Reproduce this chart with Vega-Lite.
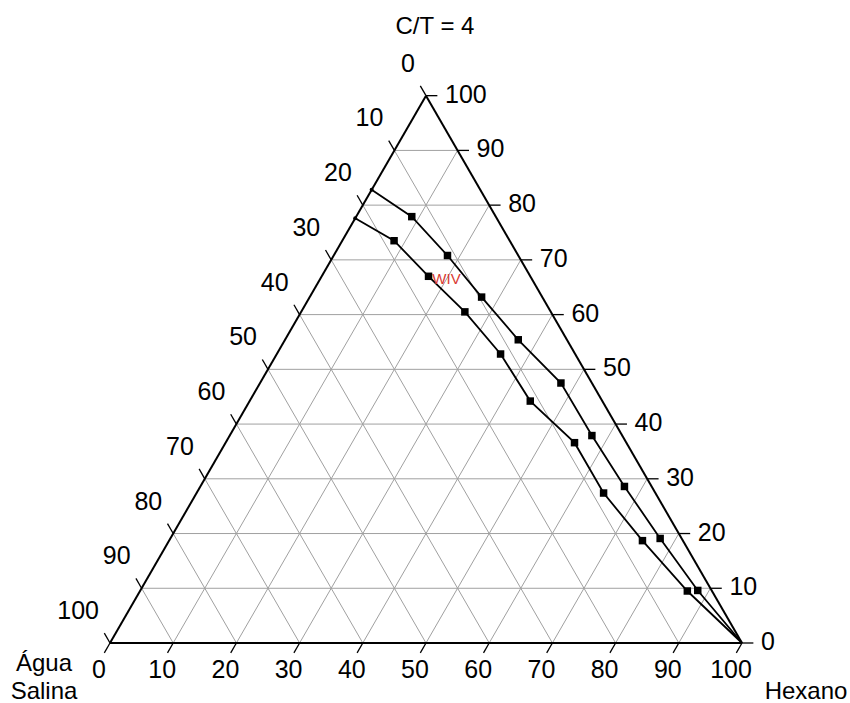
{
  "$schema": "https://vega.github.io/schema/vega-lite/v6.json",
  "width": 850,
  "height": 703,
  "autosize": {"type": "none"},
  "padding": 0,
  "background": "white",
  "config": {
    "view": {"stroke": null},
    "text": {"font": "Liberation Sans"}
  },
  "datasets": {
    "grid": [
      {"h1": 0, "t1": 10, "h2": 90, "t2": 10}, {"h1": 10, "t1": 0, "h2": 10, "t2": 90}, {"h1": 90, "t1": 0, "h2": 0, "t2": 90},
      {"h1": 0, "t1": 20, "h2": 80, "t2": 20}, {"h1": 20, "t1": 0, "h2": 20, "t2": 80}, {"h1": 80, "t1": 0, "h2": 0, "t2": 80},
      {"h1": 0, "t1": 30, "h2": 70, "t2": 30}, {"h1": 30, "t1": 0, "h2": 30, "t2": 70}, {"h1": 70, "t1": 0, "h2": 0, "t2": 70},
      {"h1": 0, "t1": 40, "h2": 60, "t2": 40}, {"h1": 40, "t1": 0, "h2": 40, "t2": 60}, {"h1": 60, "t1": 0, "h2": 0, "t2": 60},
      {"h1": 0, "t1": 50, "h2": 50, "t2": 50}, {"h1": 50, "t1": 0, "h2": 50, "t2": 50}, {"h1": 50, "t1": 0, "h2": 0, "t2": 50},
      {"h1": 0, "t1": 60, "h2": 40, "t2": 60}, {"h1": 60, "t1": 0, "h2": 60, "t2": 40}, {"h1": 40, "t1": 0, "h2": 0, "t2": 40},
      {"h1": 0, "t1": 70, "h2": 30, "t2": 70}, {"h1": 70, "t1": 0, "h2": 70, "t2": 30}, {"h1": 30, "t1": 0, "h2": 0, "t2": 30},
      {"h1": 0, "t1": 80, "h2": 20, "t2": 80}, {"h1": 80, "t1": 0, "h2": 80, "t2": 20}, {"h1": 20, "t1": 0, "h2": 0, "t2": 20},
      {"h1": 0, "t1": 90, "h2": 10, "t2": 90}, {"h1": 90, "t1": 0, "h2": 90, "t2": 10}, {"h1": 10, "t1": 0, "h2": 0, "t2": 10}
    ],
    "edges": [
      {"h1": 0, "t1": 0, "h2": 100, "t2": 0},
      {"h1": 100, "t1": 0, "h2": 0, "t2": 100},
      {"h1": 0, "t1": 100, "h2": 0, "t2": 0}
    ],
    "ticks": [
      {"h1": 0, "t1": 0, "h2": 0, "t2": -1.8}, {"h1": 10, "t1": 0, "h2": 10, "t2": -1.8}, {"h1": 20, "t1": 0, "h2": 20, "t2": -1.8},
      {"h1": 30, "t1": 0, "h2": 30, "t2": -1.8}, {"h1": 40, "t1": 0, "h2": 40, "t2": -1.8}, {"h1": 50, "t1": 0, "h2": 50, "t2": -1.8},
      {"h1": 60, "t1": 0, "h2": 60, "t2": -1.8}, {"h1": 70, "t1": 0, "h2": 70, "t2": -1.8}, {"h1": 80, "t1": 0, "h2": 80, "t2": -1.8},
      {"h1": 90, "t1": 0, "h2": 90, "t2": -1.8}, {"h1": 100, "t1": 0, "h2": 100, "t2": -1.8},
      {"h1": 100, "t1": 0, "h2": 101.8, "t2": 0}, {"h1": 90, "t1": 10, "h2": 91.8, "t2": 10}, {"h1": 80, "t1": 20, "h2": 81.8, "t2": 20},
      {"h1": 70, "t1": 30, "h2": 71.8, "t2": 30}, {"h1": 60, "t1": 40, "h2": 61.8, "t2": 40}, {"h1": 50, "t1": 50, "h2": 51.8, "t2": 50},
      {"h1": 40, "t1": 60, "h2": 41.8, "t2": 60}, {"h1": 30, "t1": 70, "h2": 31.8, "t2": 70}, {"h1": 20, "t1": 80, "h2": 21.8, "t2": 80},
      {"h1": 10, "t1": 90, "h2": 11.8, "t2": 90}, {"h1": 0, "t1": 100, "h2": 1.8, "t2": 100},
      {"h1": 0, "t1": 100, "h2": -1.8, "t2": 101.8}, {"h1": 0, "t1": 90, "h2": -1.8, "t2": 91.8}, {"h1": 0, "t1": 80, "h2": -1.8, "t2": 81.8},
      {"h1": 0, "t1": 70, "h2": -1.8, "t2": 71.8}, {"h1": 0, "t1": 60, "h2": -1.8, "t2": 61.8}, {"h1": 0, "t1": 50, "h2": -1.8, "t2": 51.8},
      {"h1": 0, "t1": 40, "h2": -1.8, "t2": 41.8}, {"h1": 0, "t1": 30, "h2": -1.8, "t2": 31.8}, {"h1": 0, "t1": 20, "h2": -1.8, "t2": 21.8},
      {"h1": 0, "t1": 10, "h2": -1.8, "t2": 11.8}, {"h1": 0, "t1": 0, "h2": -1.8, "t2": 1.8}
    ],
    "labels": [
      {"axis": "hexano", "v": 0, "h": 0, "t": 0}, {"axis": "hexano", "v": 10, "h": 10, "t": 0}, {"axis": "hexano", "v": 20, "h": 20, "t": 0},
      {"axis": "hexano", "v": 30, "h": 30, "t": 0}, {"axis": "hexano", "v": 40, "h": 40, "t": 0}, {"axis": "hexano", "v": 50, "h": 50, "t": 0},
      {"axis": "hexano", "v": 60, "h": 60, "t": 0}, {"axis": "hexano", "v": 70, "h": 70, "t": 0}, {"axis": "hexano", "v": 80, "h": 80, "t": 0},
      {"axis": "hexano", "v": 90, "h": 90, "t": 0}, {"axis": "hexano", "v": 100, "h": 100, "t": 0},
      {"axis": "ct", "v": 0, "h": 100, "t": 0}, {"axis": "ct", "v": 10, "h": 90, "t": 10}, {"axis": "ct", "v": 20, "h": 80, "t": 20},
      {"axis": "ct", "v": 30, "h": 70, "t": 30}, {"axis": "ct", "v": 40, "h": 60, "t": 40}, {"axis": "ct", "v": 50, "h": 50, "t": 50},
      {"axis": "ct", "v": 60, "h": 40, "t": 60}, {"axis": "ct", "v": 70, "h": 30, "t": 70}, {"axis": "ct", "v": 80, "h": 20, "t": 80},
      {"axis": "ct", "v": 90, "h": 10, "t": 90}, {"axis": "ct", "v": 100, "h": 0, "t": 100},
      {"axis": "salina", "v": 0, "h": 0, "t": 100}, {"axis": "salina", "v": 10, "h": 0, "t": 90}, {"axis": "salina", "v": 20, "h": 0, "t": 80},
      {"axis": "salina", "v": 30, "h": 0, "t": 70}, {"axis": "salina", "v": 40, "h": 0, "t": 60}, {"axis": "salina", "v": 50, "h": 0, "t": 50},
      {"axis": "salina", "v": 60, "h": 0, "t": 40}, {"axis": "salina", "v": 70, "h": 0, "t": 30}, {"axis": "salina", "v": 80, "h": 0, "t": 20},
      {"axis": "salina", "v": 90, "h": 0, "t": 10}, {"axis": "salina", "v": 100, "h": 0, "t": 0}
    ],
    "curves": [
      {"curva": "A", "seq": 0, "hexano": 0, "salina": 17.2, "ct": 82.8, "marker": "edge"},
      {"curva": "A", "seq": 1, "hexano": 8.8, "salina": 13.3, "ct": 77.9, "marker": "sq"},
      {"curva": "A", "seq": 2, "hexano": 18.0, "salina": 11.2, "ct": 70.8, "marker": "sq"},
      {"curva": "A", "seq": 3, "hexano": 27.2, "salina": 9.6, "ct": 63.2, "marker": "sq"},
      {"curva": "A", "seq": 4, "hexano": 36.9, "salina": 7.7, "ct": 55.4, "marker": "sq"},
      {"curva": "A", "seq": 5, "hexano": 47.6, "salina": 4.9, "ct": 47.5, "marker": "sq"},
      {"curva": "A", "seq": 6, "hexano": 57.3, "salina": 4.8, "ct": 37.9, "marker": "sq"},
      {"curva": "A", "seq": 7, "hexano": 67.1, "salina": 4.3, "ct": 28.6, "marker": "sq"},
      {"curva": "A", "seq": 8, "hexano": 77.5, "salina": 3.4, "ct": 19.1, "marker": "sq"},
      {"curva": "A", "seq": 9, "hexano": 88.2, "salina": 2.2, "ct": 9.6, "marker": "sq"},
      {"curva": "A", "seq": 10, "hexano": 100, "salina": 0, "ct": 0, "marker": "none"},
      {"curva": "B", "seq": 0, "hexano": 0, "salina": 22.4, "ct": 77.6, "marker": "edge"},
      {"curva": "B", "seq": 1, "hexano": 8.2, "salina": 18.3, "ct": 73.5, "marker": "sq"},
      {"curva": "B", "seq": 2, "hexano": 16.9, "salina": 16.1, "ct": 67.0, "marker": "sq"},
      {"curva": "B", "seq": 3, "hexano": 25.9, "salina": 13.6, "ct": 60.5, "marker": "sq"},
      {"curva": "B", "seq": 4, "hexano": 35.4, "salina": 11.8, "ct": 52.8, "marker": "sq"},
      {"curva": "B", "seq": 5, "hexano": 44.4, "salina": 11.4, "ct": 44.2, "marker": "sq"},
      {"curva": "B", "seq": 6, "hexano": 55.2, "salina": 8.2, "ct": 36.6, "marker": "sq"},
      {"curva": "B", "seq": 7, "hexano": 64.4, "salina": 8.2, "ct": 27.4, "marker": "sq"},
      {"curva": "B", "seq": 8, "hexano": 74.9, "salina": 6.4, "ct": 18.7, "marker": "sq"},
      {"curva": "B", "seq": 9, "hexano": 86.6, "salina": 3.9, "ct": 9.5, "marker": "sq"},
      {"curva": "B", "seq": 10, "hexano": 100, "salina": 0, "ct": 0, "marker": "none"}
    ],
    "names": [
      {"name": "C/T = 4", "h": 0, "t": 100, "pos": "top"},
      {"name": "Hexano", "h": 100, "t": 0, "pos": "right"},
      {"name": "Água\nSalina", "h": 0, "t": 0, "pos": "left"},
      {"name": "WIV", "h": 20.0, "t": 66.5, "pos": "region"}
    ]
  },
  "layer": [
    {
      "description": "Grey 10% grid lines for the three components",
      "data": {"name": "grid"},
      "transform": [
        {"calculate": "datum.h1 + datum.t1 / 2", "as": "x1"},
        {"calculate": "datum.t1 * 0.8660254", "as": "y1"},
        {"calculate": "datum.h2 + datum.t2 / 2", "as": "x2"},
        {"calculate": "datum.t2 * 0.8660254", "as": "y2"}
      ],
      "mark": {"type": "rule", "color": "#a0a0a0", "strokeWidth": 1},
      "encoding": {
        "x": {"field": "x1", "type": "quantitative", "scale": {"domain": [-17.405, 117.089], "nice": false, "zero": false}, "axis": null},
        "y": {"field": "y1", "type": "quantitative", "scale": {"domain": [-9.494, 101.741], "nice": false, "zero": false}, "axis": null},
        "x2": {"field": "x2"},
        "y2": {"field": "y2"}
      }
    },
    {
      "description": "Triangle sides",
      "data": {"name": "edges"},
      "transform": [
        {"calculate": "datum.h1 + datum.t1 / 2", "as": "x1"},
        {"calculate": "datum.t1 * 0.8660254", "as": "y1"},
        {"calculate": "datum.h2 + datum.t2 / 2", "as": "x2"},
        {"calculate": "datum.t2 * 0.8660254", "as": "y2"}
      ],
      "mark": {"type": "rule", "color": "black", "strokeWidth": 2},
      "encoding": {
        "x": {"field": "x1", "type": "quantitative", "scale": {"domain": [-17.405, 117.089], "nice": false, "zero": false}, "axis": null},
        "y": {"field": "y1", "type": "quantitative", "scale": {"domain": [-9.494, 101.741], "nice": false, "zero": false}, "axis": null},
        "x2": {"field": "x2"},
        "y2": {"field": "y2"}
      }
    },
    {
      "description": "Tick marks along each side",
      "data": {"name": "ticks"},
      "transform": [
        {"calculate": "datum.h1 + datum.t1 / 2", "as": "x1"},
        {"calculate": "datum.t1 * 0.8660254", "as": "y1"},
        {"calculate": "datum.h2 + datum.t2 / 2", "as": "x2"},
        {"calculate": "datum.t2 * 0.8660254", "as": "y2"}
      ],
      "mark": {"type": "rule", "color": "black", "strokeWidth": 1.3},
      "encoding": {
        "x": {"field": "x1", "type": "quantitative", "scale": {"domain": [-17.405, 117.089], "nice": false, "zero": false}, "axis": null},
        "y": {"field": "y1", "type": "quantitative", "scale": {"domain": [-9.494, 101.741], "nice": false, "zero": false}, "axis": null},
        "x2": {"field": "x2"},
        "y2": {"field": "y2"}
      }
    },
    {
      "description": "Hexano tick labels (bottom side)",
      "data": {"name": "labels"},
      "transform": [
        {"filter": "datum.axis === 'hexano'"},
        {"calculate": "datum.h + datum.t / 2", "as": "px"},
        {"calculate": "datum.t * 0.8660254", "as": "py"}
      ],
      "mark": {"type": "text", "fontSize": 25, "align": "center", "baseline": "middle", "dx": -11, "dy": 27, "color": "black"},
      "encoding": {
        "x": {"field": "px", "type": "quantitative", "scale": {"domain": [-17.405, 117.089], "nice": false, "zero": false}, "axis": null},
        "y": {"field": "py", "type": "quantitative", "scale": {"domain": [-9.494, 101.741], "nice": false, "zero": false}, "axis": null},
        "text": {"field": "v", "type": "quantitative"}
      }
    },
    {
      "description": "C/T tick labels (right side)",
      "data": {"name": "labels"},
      "transform": [
        {"filter": "datum.axis === 'ct'"},
        {"calculate": "datum.h + datum.t / 2", "as": "px"},
        {"calculate": "datum.t * 0.8660254", "as": "py"}
      ],
      "mark": {"type": "text", "fontSize": 25, "align": "left", "baseline": "middle", "dx": 19, "dy": -1, "color": "black"},
      "encoding": {
        "x": {"field": "px", "type": "quantitative", "scale": {"domain": [-17.405, 117.089], "nice": false, "zero": false}, "axis": null},
        "y": {"field": "py", "type": "quantitative", "scale": {"domain": [-9.494, 101.741], "nice": false, "zero": false}, "axis": null},
        "text": {"field": "v", "type": "quantitative"}
      }
    },
    {
      "description": "Água Salina tick labels (left side)",
      "data": {"name": "labels"},
      "transform": [
        {"filter": "datum.axis === 'salina'"},
        {"calculate": "datum.h + datum.t / 2", "as": "px"},
        {"calculate": "datum.t * 0.8660254", "as": "py"}
      ],
      "mark": {"type": "text", "fontSize": 25, "align": "right", "baseline": "middle", "dx": -11, "dy": -32, "color": "black"},
      "encoding": {
        "x": {"field": "px", "type": "quantitative", "scale": {"domain": [-17.405, 117.089], "nice": false, "zero": false}, "axis": null},
        "y": {"field": "py", "type": "quantitative", "scale": {"domain": [-9.494, 101.741], "nice": false, "zero": false}, "axis": null},
        "text": {"field": "v", "type": "quantitative"}
      }
    },
    {
      "description": "Phase boundary curves",
      "data": {"name": "curves"},
      "transform": [
        {"calculate": "datum.hexano + datum.ct / 2", "as": "px"},
        {"calculate": "datum.ct * 0.8660254", "as": "py"}
      ],
      "mark": {"type": "line", "color": "black", "strokeWidth": 1.8},
      "encoding": {
        "x": {"field": "px", "type": "quantitative", "scale": {"domain": [-17.405, 117.089], "nice": false, "zero": false}, "axis": null},
        "y": {"field": "py", "type": "quantitative", "scale": {"domain": [-9.494, 101.741], "nice": false, "zero": false}, "axis": null},
        "detail": {"field": "curva"},
        "order": {"field": "seq", "type": "quantitative"}
      }
    },
    {
      "description": "Measured points",
      "data": {"name": "curves"},
      "transform": [
        {"filter": "datum.marker === 'sq'"},
        {"calculate": "datum.hexano + datum.ct / 2", "as": "px"},
        {"calculate": "datum.ct * 0.8660254", "as": "py"}
      ],
      "mark": {"type": "point", "shape": "square", "filled": true, "color": "black", "size": 56, "opacity": 1},
      "encoding": {
        "x": {"field": "px", "type": "quantitative", "scale": {"domain": [-17.405, 117.089], "nice": false, "zero": false}, "axis": null},
        "y": {"field": "py", "type": "quantitative", "scale": {"domain": [-9.494, 101.741], "nice": false, "zero": false}, "axis": null}
      }
    },
    {
      "description": "Curve ends on the C/T - water side",
      "data": {"name": "curves"},
      "transform": [
        {"filter": "datum.marker === 'edge'"},
        {"calculate": "datum.hexano + datum.ct / 2", "as": "px"},
        {"calculate": "datum.ct * 0.8660254", "as": "py"}
      ],
      "mark": {"type": "point", "shape": "circle", "filled": true, "color": "black", "size": 16, "opacity": 1},
      "encoding": {
        "x": {"field": "px", "type": "quantitative", "scale": {"domain": [-17.405, 117.089], "nice": false, "zero": false}, "axis": null},
        "y": {"field": "py", "type": "quantitative", "scale": {"domain": [-9.494, 101.741], "nice": false, "zero": false}, "axis": null}
      }
    },
    {
      "description": "Vertex name: C/T",
      "data": {"name": "names"},
      "transform": [
        {"filter": "datum.pos === 'top'"},
        {"calculate": "datum.h + datum.t / 2", "as": "px"},
        {"calculate": "datum.t * 0.8660254", "as": "py"}
      ],
      "mark": {"type": "text", "fontSize": 24, "align": "center", "baseline": "middle", "dx": 9, "dy": -69, "color": "black"},
      "encoding": {
        "x": {"field": "px", "type": "quantitative", "scale": {"domain": [-17.405, 117.089], "nice": false, "zero": false}, "axis": null},
        "y": {"field": "py", "type": "quantitative", "scale": {"domain": [-9.494, 101.741], "nice": false, "zero": false}, "axis": null},
        "text": {"field": "name"}
      }
    },
    {
      "description": "Vertex name: Hexano",
      "data": {"name": "names"},
      "transform": [
        {"filter": "datum.pos === 'right'"},
        {"calculate": "datum.h + datum.t / 2", "as": "px"},
        {"calculate": "datum.t * 0.8660254", "as": "py"}
      ],
      "mark": {"type": "text", "fontSize": 24, "align": "center", "baseline": "middle", "dx": 64, "dy": 49, "color": "black"},
      "encoding": {
        "x": {"field": "px", "type": "quantitative", "scale": {"domain": [-17.405, 117.089], "nice": false, "zero": false}, "axis": null},
        "y": {"field": "py", "type": "quantitative", "scale": {"domain": [-9.494, 101.741], "nice": false, "zero": false}, "axis": null},
        "text": {"field": "name"}
      }
    },
    {
      "description": "Vertex name: Água Salina",
      "data": {"name": "names"},
      "transform": [
        {"filter": "datum.pos === 'left'"},
        {"calculate": "datum.h + datum.t / 2", "as": "px"},
        {"calculate": "datum.t * 0.8660254", "as": "py"}
      ],
      "mark": {"type": "text", "fontSize": 24, "align": "center", "baseline": "middle", "lineBreak": "\n", "lineHeight": 28, "dx": -66, "dy": 21, "color": "black"},
      "encoding": {
        "x": {"field": "px", "type": "quantitative", "scale": {"domain": [-17.405, 117.089], "nice": false, "zero": false}, "axis": null},
        "y": {"field": "py", "type": "quantitative", "scale": {"domain": [-9.494, 101.741], "nice": false, "zero": false}, "axis": null},
        "text": {"field": "name"}
      }
    },
    {
      "description": "Winsor IV region tag",
      "data": {"name": "names"},
      "transform": [
        {"filter": "datum.pos === 'region'"},
        {"calculate": "datum.h + datum.t / 2", "as": "px"},
        {"calculate": "datum.t * 0.8660254", "as": "py"}
      ],
      "mark": {"type": "text", "fontSize": 15, "align": "center", "baseline": "middle", "color": "#d93a32"},
      "encoding": {
        "x": {"field": "px", "type": "quantitative", "scale": {"domain": [-17.405, 117.089], "nice": false, "zero": false}, "axis": null},
        "y": {"field": "py", "type": "quantitative", "scale": {"domain": [-9.494, 101.741], "nice": false, "zero": false}, "axis": null},
        "text": {"field": "name"}
      }
    }
  ]
}
